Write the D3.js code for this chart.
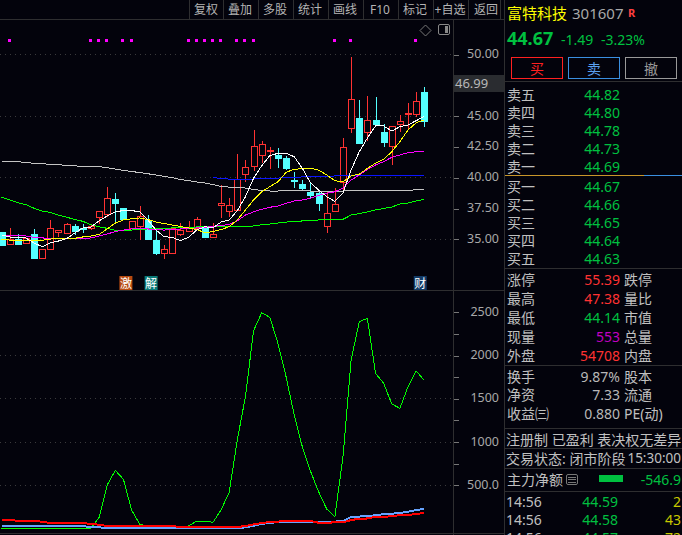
<!DOCTYPE html>
<html>
<head>
<meta charset="utf-8">
<style>
html, body { margin: 0; padding: 0; background: #03030c; overflow: hidden; }
svg { display: block; }
text { font-family: "Noto Sans", "Noto Sans CJK SC", sans-serif; }
.crisp { shape-rendering: crispEdges; }
</style>
</head>
<body>
<svg width="682" height="535"></svg>
<script src="https://d3js.org/d3.v7.min.js"></script>
<script>
// daily candles, left to right
let opens = [35.59,34.64,35.02,34.64,35.43,33.50,34.16,35.53,35.45,36.08,35.94,35.97,36.75,37.00,38.27,37.54,35.94,36.10,36.57,34.94,33.83,33.91,35.45,35.62,35.89,35.94,35.21,37.73,37.24,37.32,40.24,40.92,41.82,42.14,41.84,41.60,39.81,39.49,38.84,38.73,36.02,37.27,39.59,43.98,44.85,43.69,44.66,43.69,42.63,44.42,45.19,45.11,46.99];
let closes = [34.54,35.05,34.64,35.08,33.50,34.19,35.89,35.73,36.22,35.67,35.86,36.10,37.27,38.33,37.95,36.65,36.49,36.89,35.02,33.89,34.19,35.92,35.75,35.89,36.62,35.21,35.45,37.92,37.76,39.87,40.84,42.55,42.71,42.22,41.62,40.79,39.76,39.19,38.62,37.89,37.11,37.84,42.47,46.36,42.82,44.66,44.36,42.84,44.22,44.63,45.27,46.20,44.67];
let highs = [35.59,35.89,35.43,35.08,35.84,34.19,36.57,35.78,36.32,36.24,36.27,36.16,37.27,39.24,38.76,37.54,36.49,37.70,36.97,35.67,34.54,35.92,36.30,36.49,36.81,35.94,36.30,39.41,38.35,41.92,41.44,43.87,42.98,42.49,42.39,41.76,40.49,39.81,39.54,38.92,38.94,39.14,43.22,49.80,46.31,46.63,46.55,44.36,44.22,45.09,46.06,46.93,47.38];
let lows = [34.54,34.64,34.54,34.64,33.50,33.50,34.16,35.19,35.45,35.37,35.53,35.75,36.24,36.81,36.43,36.65,35.94,34.94,35.02,33.73,33.40,33.91,35.27,35.62,35.89,35.21,35.21,36.75,36.79,37.32,39.67,40.57,41.22,40.73,40.79,40.62,39.14,38.98,38.35,37.32,35.53,37.27,38.86,43.60,42.71,42.95,44.36,42.52,41.06,43.73,43.98,44.95,44.14];

// moving averages
let ma5 = [35.35,35.19,35.11,35.11,34.70,34.40,34.70,34.86,35.05,35.51,35.92,36.00,36.49,36.89,37.22,37.34,37.34,37.22,36.57,35.75,35.21,35.16,34.89,35.16,35.75,36.02,35.92,36.40,36.57,37.32,38.46,39.95,40.97,41.79,41.98,42.00,41.70,40.76,39.59,39.00,38.46,38.08,38.78,40.62,42.11,43.22,44.20,44.20,43.79,44.14,44.28,44.63,44.98];
let ma10 = [35.00,34.94,34.94,34.94,34.92,34.92,35.02,35.05,35.06,35.08,35.19,35.27,35.39,35.84,36.32,36.57,36.67,36.73,36.61,36.40,36.28,36.16,36.04,35.92,35.79,35.55,35.62,35.79,36.02,36.57,37.38,38.19,38.86,39.27,39.67,40.44,40.68,40.73,40.76,40.62,40.22,39.76,39.65,40.16,40.28,40.76,41.17,41.49,42.11,42.93,43.87,44.46,44.68];
let ma20 = [35.27,35.27,35.27,35.27,35.15,35.11,35.08,35.08,35.08,35.08,35.08,35.11,35.27,35.43,35.63,35.75,35.84,35.86,35.84,35.78,35.75,35.79,35.84,35.88,35.92,35.97,36.04,36.12,36.20,36.49,36.97,37.22,37.44,37.60,37.70,37.92,38.11,38.19,38.33,38.57,38.73,38.86,39.14,39.81,40.22,40.68,41.03,41.30,41.66,41.84,42.03,42.11,42.17];
let ma60 = [38.41,38.19,37.97,37.81,37.52,37.30,37.19,36.97,36.79,36.62,36.46,36.18,36.02,35.89,35.73,35.74,35.75,35.79,35.84,35.87,35.89,35.92,35.94,35.96,36.00,36.01,36.02,36.02,36.02,36.02,36.04,36.08,36.18,36.24,36.32,36.40,36.44,36.49,36.53,36.57,36.59,36.61,36.62,36.97,37.09,37.22,37.38,37.50,37.62,37.86,37.94,38.11,38.25];
let ma120 = [41.33,41.33,41.31,41.23,41.17,41.13,41.09,41.05,41.00,40.96,40.92,40.90,40.89,40.82,40.70,40.60,40.50,40.42,40.32,40.22,40.10,40.00,39.85,39.76,39.65,39.57,39.45,39.28,39.24,39.22,39.16,39.04,38.97,38.92,38.92,38.97,38.97,38.96,38.92,38.92,38.92,38.92,38.92,38.95,38.95,38.95,38.95,38.95,38.95,38.95,38.95,39.03,39.03];
let ma250 = [null,null,null,null,null,null,null,null,null,null,null,null,null,null,null,null,null,null,null,null,null,null,null,null,null,null,40.03,39.93,39.89,39.89,39.89,39.89,39.93,39.95,39.97,40.00,40.03,40.06,40.08,40.10,40.11,40.14,40.16,40.16,40.16,40.16,40.16,40.15,40.15,40.15,40.14,40.14,40.14];

// lower indicator panel
let indGreen = [5,0,0,0,0,0,0,0,5,5,5,6,130,503,673,569,214,49,30,18,15,15,15,30,87,87,72,214,419,1024,1524,2287,2495,2442,2141,1755,1313,946,665,426,226,137,831,1948,2391,2430,1795,1679,1440,1390,1640,1821,1714];
let indRed = [99,99,91,91,91,79,64,64,64,64,64,53,45,30,30,30,30,30,30,30,30,30,18,18,18,18,18,18,18,18,30,49,64,76,81,87,87,87,87,68,68,72,72,99,114,117,137,137,142,157,157,168,183];
let indBlue = [30,30,30,30,30,30,30,30,30,30,30,15,15,5,5,5,5,5,5,5,5,5,5,5,5,5,5,5,5,5,15,33,53,68,73,79,79,79,79,79,79,81,87,134,139,147,153,168,172,180,195,214,229];

// candles with a magenta flag on top
let flagged = [1,11,12,13,15,16,23,24,25,26,27,29,30,31,41,43,51];
let events = [{i:15.3, t:'激', c:'#b84a10'}, {i:18.4, t:'解', c:'#0a7a78'}, {i:51.5, t:'财', c:'#123a66'}];

let priceTicks = [50, 47.5, 45, 42.5, 40, 37.5, 35];
let priceLabels = [50, 45, 42.5, 40, 37.5, 35];
let indTicks = [2500, 2000, 1500, 1000, 500];
let indMinor = [2250, 1750, 1250, 750];

let toolbar = [['复权',206],['叠加',240],['多股',275],['统计',310],['画线',345],['F10',380],['标记',415],['+自选',450],['返回',486]];
let toolSeps = [189,223,258,293,328,363,398,433,468,500];

let sellLabels = ['卖五','卖四','卖三','卖二','卖一'];
let sellPrices = ['44.82','44.80','44.78','44.73','44.69'];
let buyLabels = ['买一','买二','买三','买四','买五'];
let buyPrices = ['44.67','44.66','44.65','44.64','44.63'];
let statL = ['涨停','最高','最低','现量','外盘'];
let statV = ['55.39','47.38','44.14','553','54708'];
let statC = ['#ff3232','#ff3232','#00c040','#c000c0','#ff3232'];
let statR = ['跌停','量比','市值','总量','内盘'];
let infoL = ['换手','净资','收益㈢'];
let infoV = ['9.87%','7.33','0.880'];
let infoR = ['股本','流通','PE(动)'];
let tickTimes = ['14:56','14:56','14:56'];
let tickPrices = ['44.59','44.58','44.57'];
let tickVols = ['2','43','72'];

let RED = '#ff3232', CYAN = '#54ffff', GRAY = '#a8a8a8', GREEN = '#00c040', LINE = '#2e2e30';

let svg = d3.select('svg');
let ids = d3.range(closes.length);
let x = d3.scaleLinear().domain([0, 52]).range([1.5, 424.3]);
let y = d3.scaleLinear().domain([35, 50]).range([239.3, 54.5]);
let y2 = d3.scaleLinear().domain([0, 2500]).range([528.6, 312.3]);

function label(str, px, py, size, color, anchor) {
    return svg.append('text').attr('x', px).attr('y', py).attr('font-size', size)
        .attr('fill', color).attr('text-anchor', anchor || 'start')
        .attr('dominant-baseline', 'central').text(str);
}

function hline(x1, x2, py, color) {
    svg.append('line').attr('class', 'crisp').attr('x1', x1).attr('x2', x2)
        .attr('y1', py).attr('y2', py).attr('stroke', color || LINE);
}

function vline(px, y1, y2_, color) {
    svg.append('line').attr('class', 'crisp').attr('x1', px).attr('x2', px)
        .attr('y1', y1).attr('y2', y2_).attr('stroke', color || LINE);
}

// frame
hline(0, 505, 19.5);
hline(0, 505, 290.5);
hline(0, 505, 533.5);
vline(453.5, 19, 535);
vline(504.5, 0, 535);
toolSeps.forEach(function(s) { vline(s + 0.5, 0, 19); });
toolbar.forEach(function(d) { label(d[0], d[1], 9, 12, '#b4b4b4', 'middle'); });

// grid
[50, 45, 40, 35].forEach(function(p) {
    svg.append('line').attr('class', 'crisp').attr('x1', 0).attr('x2', 453)
        .attr('y1', y(p)).attr('y2', y(p)).attr('stroke', '#3a3a3c').attr('stroke-dasharray', '1,4');
});
[2000, 1500, 1000, 500].forEach(function(v) {
    svg.append('line').attr('class', 'crisp').attr('x1', 0).attr('x2', 453)
        .attr('y1', y2(v)).attr('y2', y2(v)).attr('stroke', '#3a3a3c').attr('stroke-dasharray', '1,4');
});

// axes
let axisP = d3.axisRight(y).tickValues(priceTicks).tickSize(5).tickFormat('');
let axisP_g = svg.append('g').attr('class', 'crisp').attr('transform', 'translate(453.5,0)').call(axisP);
let axisI = d3.axisRight(y2).tickValues(indTicks.concat(indMinor)).tickSize(5).tickFormat('');
let axisI_g = svg.append('g').attr('class', 'crisp').attr('transform', 'translate(453.5,0)').call(axisI);
[axisP_g, axisI_g].forEach(function(g) {
    g.select('.domain').remove();
    g.selectAll('line').attr('stroke', '#777');
});
priceLabels.forEach(function(p) { label(p.toFixed(2), 499, y(p) - 1, 12.5, GRAY, 'end'); });
indTicks.forEach(function(v) {
    label(v == 500 ? '500.0' : String(v), 499, y2(v) - 1, 12.5, GRAY, 'end');
});

svg.append('rect').attr('x', 454).attr('y', 75).attr('width', 50).attr('height', 17).attr('fill', '#2a2c30');
label('46.99', 455, 83, 13, '#b8b8b8');

// diamond + layout button
svg.append('path').attr('d', 'M425.5,25 L431,30.5 L425.5,36 L420,30.5 Z').attr('fill', 'none').attr('stroke', '#777');
svg.append('rect').attr('x', 438.5).attr('y', 24.5).attr('width', 11).attr('height', 10).attr('rx', 1.5)
    .attr('fill', 'none').attr('stroke', '#888');
svg.append('rect').attr('x', 445).attr('y', 26).attr('width', 3).attr('height', 7).attr('fill', '#888');

// flags
svg.selectAll('rect.flag').data(flagged).join('rect').attr('class', 'flag crisp')
    .attr('x', function(d) { return Math.round(x(d)) - 2; }).attr('y', 39)
    .attr('width', 3).attr('height', 3).attr('fill', '#ff00ff');

// candles
let isUp = function(i) { return closes[i] >= opens[i]; };
svg.append('g').selectAll('line').data(ids).join('line').attr('class', 'crisp')
    .attr('x1', function(i) { return Math.round(x(i)) + 0.5; })
    .attr('x2', function(i) { return Math.round(x(i)) + 0.5; })
    .attr('y1', function(i) { return y(highs[i]); })
    .attr('y2', function(i) { return y(lows[i]); })
    .attr('stroke', function(i) { return isUp(i) ? RED : CYAN; });
svg.append('g').selectAll('rect').data(ids).join('rect').attr('class', 'crisp')
    .attr('x', function(i) { return Math.round(x(i)) - 2.5; })
    .attr('width', 6)
    .attr('y', function(i) { return Math.round(y(Math.max(opens[i], closes[i]))) + 0.5; })
    .attr('height', function(i) { return Math.max(1, Math.round(Math.abs(y(opens[i]) - y(closes[i])))); })
    .attr('fill', function(i) { return isUp(i) ? '#03030c' : CYAN; })
    .attr('stroke', function(i) { return isUp(i) ? RED : CYAN; });

// moving average lines
let maLine = d3.line().defined(function(d) { return d != null; })
    .x(function(d, i) { return x(i); }).y(function(d) { return y(d); });
[[ma120, '#c4c4c4'], [ma250, '#0a14ff'], [ma60, '#00ff00'], [ma20, '#ff00ff'], [ma10, '#ffff00'], [ma5, '#ffffff']].forEach(function(m) {
    svg.append('path').attr('class', 'crisp').attr('d', maLine(m[0]))
        .attr('fill', 'none').attr('stroke', m[1]).attr('stroke-width', 1);
});

// event tags
events.forEach(function(e) {
    let ex = x(e.i);
    svg.append('rect').attr('x', ex - 6.5).attr('y', 276).attr('width', 13).attr('height', 14).attr('fill', e.c);
    label(e.t, ex, 283, 12, '#fff', 'middle');
});

// indicator lines
let indLine = d3.line().x(function(d, i) { return x(i); }).y(function(d) { return y2(d); });
svg.append('path').attr('class', 'crisp').attr('d', indLine(indGreen)).attr('fill', 'none').attr('stroke', '#00ff00');
svg.append('path').attr('class', 'crisp').attr('d', indLine(indBlue)).attr('fill', 'none').attr('stroke', '#66a3ff').attr('stroke-width', 2);
svg.append('path').attr('class', 'crisp').attr('d', indLine(indRed)).attr('fill', 'none').attr('stroke', '#ff0000').attr('stroke-width', 2);

// quote panel
label('富特科技', 507, 13, 15, '#ffff00');
label('301607', 572, 13, 15, '#a8a8a8');
label('R', 628, 12, 11, '#ff4040').attr('font-weight', 'bold');
label('44.67', 507, 38, 18, GREEN).attr('font-weight', 'bold');
label('-1.49', 561, 39, 14, GREEN);
label('-3.23%', 601, 39, 14, GREEN);
[['买', 511, '#ff2020', '#ff2020'], ['卖', 568, '#3a8fe0', '#5aa0f0'], ['撤', 625, '#999', '#999']].forEach(function(b) {
    svg.append('rect').attr('class', 'crisp').attr('x', b[1] + 0.5).attr('y', 57.5).attr('width', 51).attr('height', 21)
        .attr('fill', 'none').attr('stroke', b[2]);
    label(b[0], b[1] + 26, 68, 14, b[3], 'middle');
});

hline(505, 682, 81.5);
sellLabels.forEach(function(s, i) {
    label(s, 507, 94 + i * 18, 14, '#c0c0c0');
    label(sellPrices[i], 620, 94 + i * 18, 14, GREEN, 'end');
});
hline(505, 644, 175.5, '#c8962a');
hline(644, 682, 175.5, '#3a8fe0');
buyLabels.forEach(function(s, i) {
    label(s, 507, 186 + i * 18, 14, '#c0c0c0');
    label(buyPrices[i], 620, 186 + i * 18, 14, GREEN, 'end');
});
hline(505, 682, 268.5);
statL.forEach(function(s, i) {
    let py = 279 + i * 19;
    label(s, 507, py, 14, '#c0c0c0');
    label(statV[i], 620, py, 14, statC[i], 'end');
    label(statR[i], 624, py, 14, '#c0c0c0');
});
hline(505, 682, 365.5);
infoL.forEach(function(s, i) {
    let py = 376 + i * 18.7;
    label(s, 507, py, 14, '#c0c0c0');
    label(infoV[i], 620, py, 14, '#b8b8b8', 'end');
    label(infoR[i], 624, py, 14, '#c0c0c0');
});
hline(505, 682, 428.5);
label('注册制 已盈利 表决权无差异', 506, 439, 14, '#c0c0c0');
hline(505, 682, 448.5);
label('交易状态: 闭市阶段', 506, 458, 14, '#c0c0c0');
label('15:30:00', 681, 458, 13.5, '#c0c0c0', 'end');
hline(505, 682, 468.5);
label('主力净额', 507, 479, 14, '#c0c0c0');
svg.append('rect').attr('x', 566.5).attr('y', 474.5).attr('width', 11).attr('height', 10).attr('rx', 1.5).attr('fill', 'none').attr('stroke', '#777');
[477, 479.5, 482].forEach(function(py) { hline(568, 576, py, '#777'); });
svg.append('rect').attr('x', 599).attr('y', 475).attr('width', 24).attr('height', 7).attr('fill', '#00c040');
label('-546.9', 681, 479, 14, GREEN, 'end');
hline(505, 682, 491.5);
tickTimes.forEach(function(t, i) {
    let py = 501 + i * 18;
    label(t, 506, py, 14, '#c0c0c0');
    label(tickPrices[i], 618, py, 14, GREEN, 'end');
    label(tickVols[i], 681, py, 14, '#c8c800', 'end');
});
</script>
</body>
</html>
